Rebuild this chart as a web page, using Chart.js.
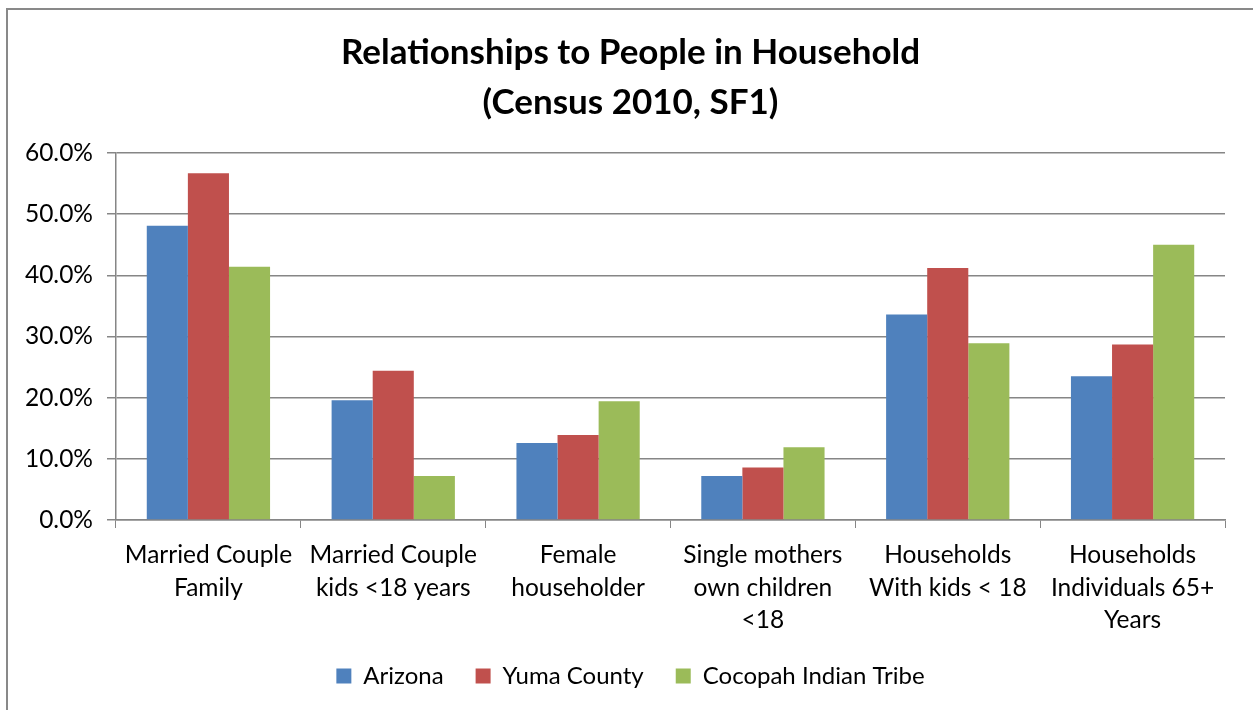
<!DOCTYPE html>
<html>
<head>
<meta charset="utf-8">
<script src="https://cdn.jsdelivr.net/npm/chart.js@4.4.0/dist/chart.umd.min.js"></script>
<style>
    html, body { margin: 0; padding: 0; background: #fff; }
    #wrap { width: 1253px; height: 710px; position: relative; }
</style>
</head>
<body>
<div id="wrap"><canvas id="householdChart"></canvas></div>
<script>
const categories = [
    ['Married Couple', 'Family'],
    ['Married Couple', 'kids <18 years'],
    ['Female', 'householder'],
    ['Single mothers', 'own children', '<18'],
    ['Households', 'With kids < 18'],
    ['Households', 'Individuals 65+', 'Years']
];
const arizona = [48.1, 19.6, 12.6, 7.2, 33.6, 23.5];
const yumaCounty = [56.7, 24.4, 13.9, 8.6, 41.2, 28.7];
const cocopah = [41.4, 7.2, 19.4, 11.9, 28.9, 45.0];
const yTicks = [0, 10, 20, 30, 40, 50, 60];

const fontFamily = 'Lato, "Open Sans", sans-serif';
const gridGray = '#868686';
const leftPad = 8;

// outer frame like the spreadsheet chart box
const framePlugin = {
    id: 'frame',
    beforeDraw(chart) {
        const ctx = chart.ctx;
        ctx.save();
        ctx.fillStyle = '#ffffff';
        ctx.fillRect(0, 0, chart.width, chart.height);
        ctx.strokeStyle = '#898989';
        ctx.lineWidth = 2;
        ctx.beginPath();
        ctx.moveTo(7, chart.height);
        ctx.lineTo(7, 9);
        ctx.lineTo(chart.width, 9);
        ctx.stroke();
        ctx.restore();
    }
};

const ctx = document.getElementById('householdChart').getContext('2d');
const householdChart = new Chart(ctx, {
    type: 'bar',
    data: {
        labels: categories,
        datasets: [
            { label: 'Arizona', data: arizona, backgroundColor: '#4F81BD' },
            { label: 'Yuma County', data: yumaCounty, backgroundColor: '#C0504D' },
            { label: 'Cocopah Indian Tribe', data: cocopah, backgroundColor: '#9BBB59' }
        ]
    },
    options: {
        responsive: true,
        maintainAspectRatio: false,
        animation: false,
        layout: { padding: { top: 28, right: 0, bottom: 12, left: leftPad } },
        datasets: {
            bar: { categoryPercentage: 0.667, barPercentage: 1.0 }
        },
        plugins: {
            title: {
                display: true,
                text: ['Relationships to People in Household', '(Census 2010, SF1)'],
                color: '#000',
                font: { family: fontFamily, size: 35, weight: 'bold', lineHeight: 1.43 },
                padding: { top: 0, bottom: 25 }
            },
            legend: {
                position: 'bottom',
                labels: {
                    color: '#000',
                    font: { family: fontFamily, size: 24 },
                    boxWidth: 15,
                    boxHeight: 15,
                    padding: 32
                }
            },
            tooltip: { enabled: false }
        },
        scales: {
            x: {
                offset: true,
                grid: {
                    offset: true,
                    drawOnChartArea: false,
                    drawTicks: true,
                    tickLength: 8,
                    color: gridGray
                },
                border: { color: gridGray, width: 1.5 },
                ticks: {
                    color: '#000',
                    font: { family: fontFamily, size: 24.5, lineHeight: 1.33 },
                    padding: 11,
                    maxRotation: 0,
                    autoSkip: false
                },
                afterFit(scale) { scale.height = 112; }
            },
            y: {
                min: 0,
                max: 60,
                afterBuildTicks(scale) {
                    scale.ticks = yTicks.map(v => ({ value: v }));
                },
                grid: {
                    color: gridGray,
                    lineWidth: 1.5,
                    tickLength: 9
                },
                border: { color: gridGray, width: 1.5 },
                ticks: {
                    color: '#000',
                    font: { family: fontFamily, size: 24.5 },
                    padding: 14,
                    callback: v => v.toFixed(1) + '%'
                },
                afterFit(scale) { scale.width = 116 - leftPad; }
            },
            // empty right-hand strip that keeps the plot off the right edge
            yRight: {
                position: 'right',
                grid: { drawOnChartArea: false, drawTicks: false },
                border: { display: false },
                ticks: { display: false },
                afterFit(scale) { scale.width = 28; }
            }
        }
    },
    plugins: [framePlugin]
});
</script>
</body>
</html>
